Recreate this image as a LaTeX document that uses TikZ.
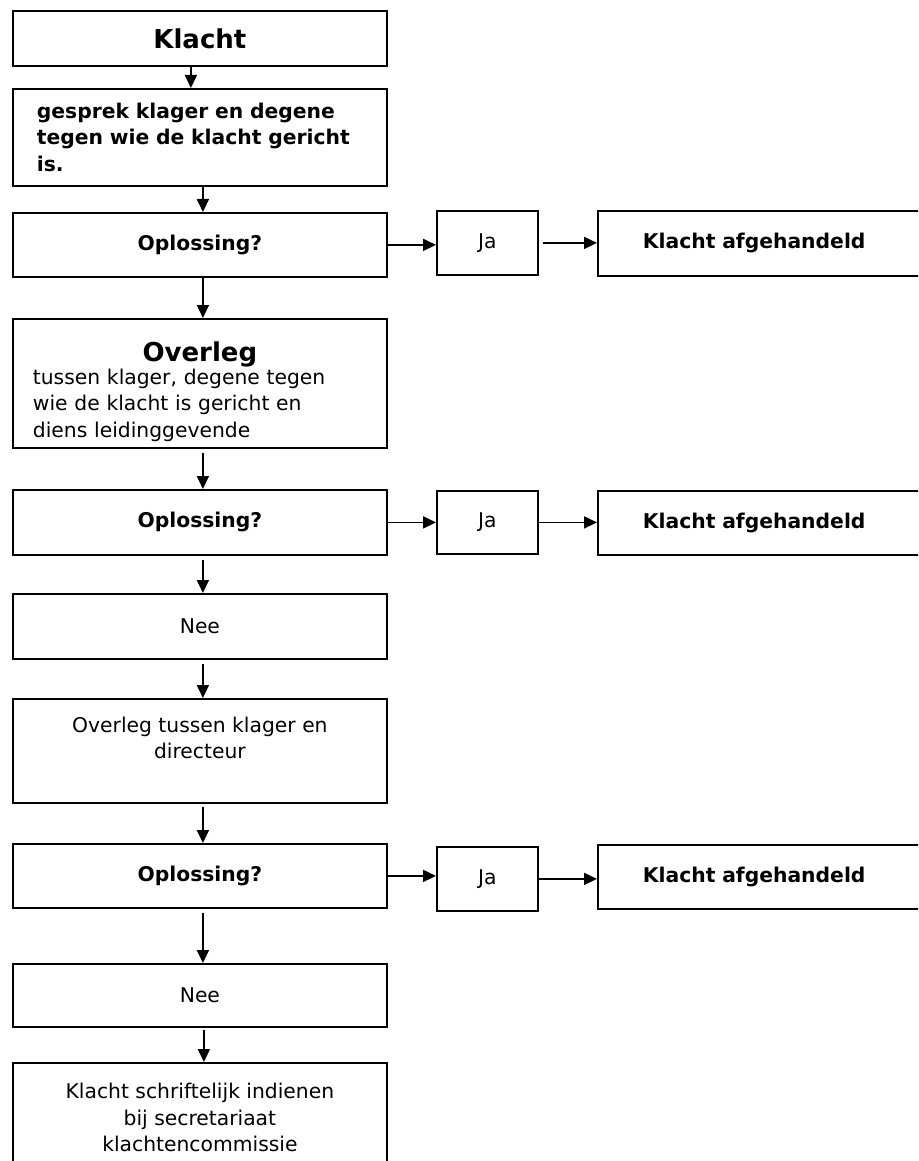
\documentclass[tikz,border=0pt]{standalone}
\usepackage{fontspec}
\setmainfont{DejaVu Sans}
\usepackage{tikz}
\usetikzlibrary{arrows.meta}
\newcommand{\bodyfont}{\fontsize{20.3}{26.5}\selectfont}
\newcommand{\bigfont}{\fontsize{26}{29}\selectfont\bfseries}

\begin{document}
\begin{tikzpicture}[x=1pt, y=-1pt,
    box/.style={draw, line width=1.8pt, inner sep=0pt, anchor=north west,
        minimum width=374pt, align=center, font=\bodyfont},
    jabox/.style={box, minimum width=101pt},
    donebox/.style={box, minimum width=0pt, text width=240pt, inner xsep=45pt,
        align=left, font=\bodyfont\bfseries},
    arr/.style={line width=1.8pt, -{Triangle[length=13pt, width=12pt]}}]
    \useasboundingbox (0,0) rectangle (918,1161);
    \clip (0,0) rectangle (918,1161);
    \node[box, minimum height=55pt] (klacht) at (12,10) {\bigfont Klacht};
    \node[box, minimum height=97pt, text width=326pt, align=left,
        font=\bodyfont\bfseries] (gesprek) at (12,88)
        {gesprek klager en degene\\tegen wie de klacht gericht\\is.};
    \node[box, minimum height=64pt, font=\bodyfont\bfseries] (opl1) at (12,212) {Oplossing?};
    \node[box, minimum height=129pt, text width=334pt, align=left] (overleg) at (12,318)
        {\makebox[\linewidth]{\rule{0pt}{36pt}\bigfont Overleg}\\[-4pt]tussen klager, degene tegen\\
        wie de klacht is gericht en\\diens leidinggevende};
    \node[box, minimum height=65pt, font=\bodyfont\bfseries] (opl2) at (12,489) {Oplossing?};
    \node[box, minimum height=65pt] (nee1) at (12,593) {Nee};
    \node[box, minimum height=104pt] (directeur) at (12,698)
        {Overleg tussen klager en\\directeur\\\mbox{}};
    \node[box, minimum height=64pt, font=\bodyfont\bfseries] (opl3) at (12,843) {Oplossing?};
    \node[box, minimum height=63pt] (nee2) at (12,963) {Nee};
    \node[box, minimum height=110pt] (indienen) at (12,1062)
        {Klacht schriftelijk indienen\\bij secretariaat\\klachtencommissie};

    \node[jabox, minimum height=64pt] (ja1) at (436,210) {Ja};
    \node[jabox, minimum height=63pt] (ja2) at (436,490) {Ja};
    \node[jabox, minimum height=64pt] (ja3) at (436,846) {Ja};
    \node[donebox, minimum height=65pt] (klaar1) at (597,210) {Klacht afgehandeld};
    \node[donebox, minimum height=64pt] (klaar2) at (597,490) {Klacht afgehandeld};
    \node[donebox, minimum height=64pt] (klaar3) at (597,844) {Klacht afgehandeld};

    \draw[arr] ([xshift=-9pt]klacht.south) -- ([xshift=-9pt]klacht.south |- gesprek.north);
    \draw[arr] ([xshift=3pt]gesprek.south) -- ([xshift=3pt]gesprek.south |- opl1.north);
    \draw[arr] ([xshift=3pt]opl1.south) -- ([xshift=3pt]opl1.south |- overleg.north);
    \draw[arr, shorten <=4pt] ([xshift=3pt]overleg.south) -- ([xshift=3pt]overleg.south |- opl2.north);
    \draw[arr, shorten <=4pt] ([xshift=3pt]opl2.south) -- ([xshift=3pt]opl2.south |- nee1.north);
    \draw[arr, shorten <=4pt] ([xshift=3pt]nee1.south) -- ([xshift=3pt]nee1.south |- directeur.north);
    \draw[arr, shorten <=3pt] ([xshift=3pt]directeur.south) -- ([xshift=3pt]directeur.south |- opl3.north);
    \draw[arr, shorten <=4pt] ([xshift=3pt]opl3.south) -- ([xshift=3pt]opl3.south |- nee2.north);
    \draw[arr, shorten <=2pt] ([xshift=4pt]nee2.south) -- ([xshift=4pt]nee2.south |- indienen.north);

    \draw[arr] (opl1.east) -- (opl1.east -| ja1.west);
    \draw[arr] (opl2.east) -- (opl2.east -| ja2.west);
    \draw[arr] (opl3.east) -- (opl3.east -| ja3.west);
    \draw[arr, shorten <=4pt] (ja1.east) -- (ja1.east -| klaar1.west);
    \draw[arr] (ja2.east) -- (ja2.east -| klaar2.west);
    \draw[arr] (ja3.east) -- (ja3.east -| klaar3.west);
\end{tikzpicture}
\end{document}
